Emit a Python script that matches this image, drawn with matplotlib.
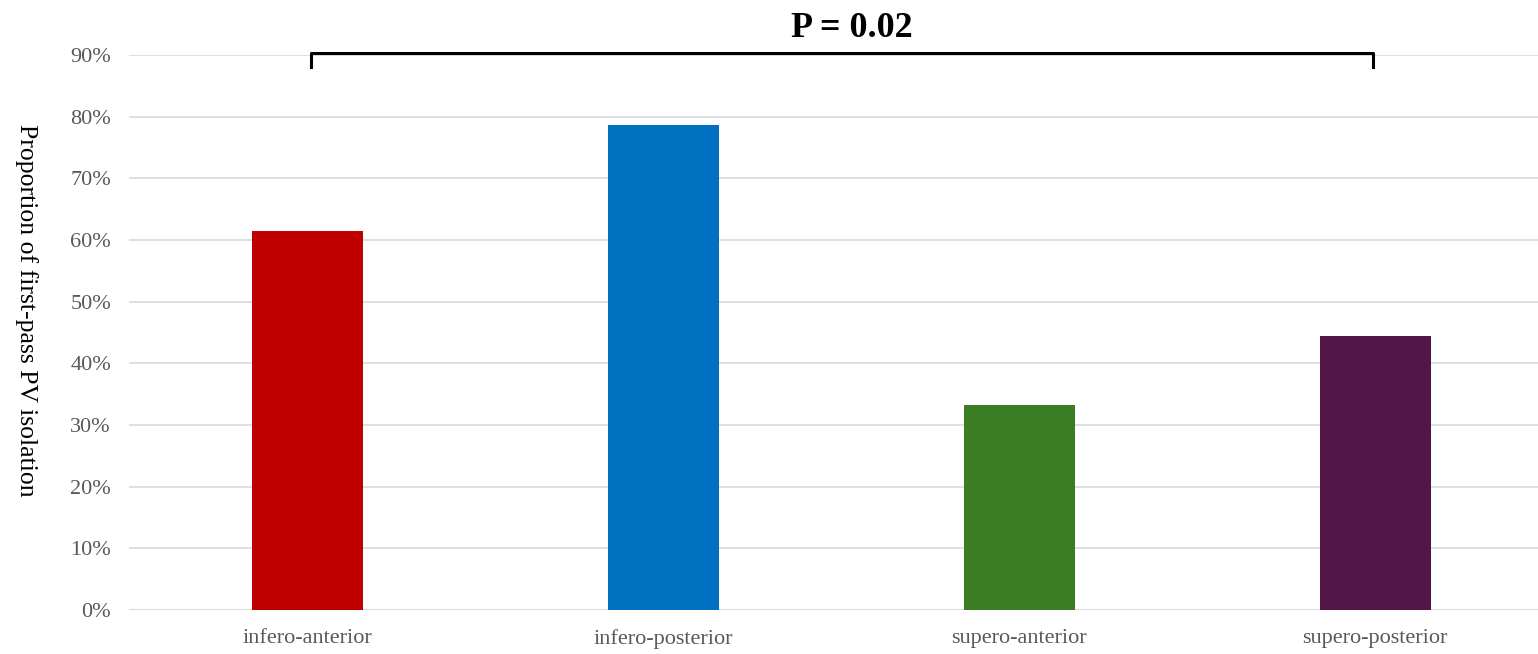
import matplotlib
matplotlib.use('Agg')
import matplotlib.pyplot as plt
from matplotlib.ticker import PercentFormatter

plt.rcParams['font.family'] = ['Liberation Serif', 'DejaVu Serif']

categories = ['infero-anterior', 'infero-posterior', 'supero-anterior', 'supero-posterior']
proportions = [0.615, 0.786, 0.333, 0.444]
colors = ['#C00000', '#0070C0', '#3B7D23', '#521748']
p_text = 'P = 0.02'


def main():
    fig = plt.figure(figsize=(15.38, 6.54), dpi=100)
    ax = fig.add_axes([0.0839, 0.0673, 0.926, 0.8486])

    x = range(len(categories))
    ax.bar(x, proportions, width=0.312, color=colors, zorder=3)

    ax.set_xlim(-0.5, len(categories) - 0.5)
    ax.set_ylim(0, 0.9)
    ax.set_yticks([i / 10 for i in range(10)])
    ax.yaxis.set_major_formatter(PercentFormatter(1.0, decimals=0))
    ax.set_xticks(list(x))
    ax.set_xticklabels(categories)

    ax.grid(axis='y', color='#D9D9D9', linewidth=1.2, zorder=0)
    for side in ('top', 'right', 'left', 'bottom'):
        ax.spines[side].set_visible(False)
    ax.axhline(0, color='#D9D9D9', linewidth=1.5, zorder=1)
    ax.tick_params(axis='both', length=0, labelsize=16, labelcolor='#595959')
    ax.tick_params(axis='y', pad=13)
    ax.tick_params(axis='x', pad=14)

    ax.set_ylabel('Proportion of first-pass PV isolation', fontsize=18.5,
                  rotation=270, va='center')
    ax.yaxis.set_label_coords(-0.072, 0.54)

    # significance bracket
    y_br = 0.903
    ax.plot([0.01, 0.01, 2.994, 2.994], [y_br - 0.022, y_br, y_br, y_br - 0.022],
            color='black', linewidth=2.2, clip_on=False, zorder=4)
    ax.text(1.53, 0.929, p_text, ha='center', va='baseline',
            fontsize=26, fontweight='bold', clip_on=False)

    fig.savefig('out.png', dpi=100)


if __name__ == "__main__":
    main()
